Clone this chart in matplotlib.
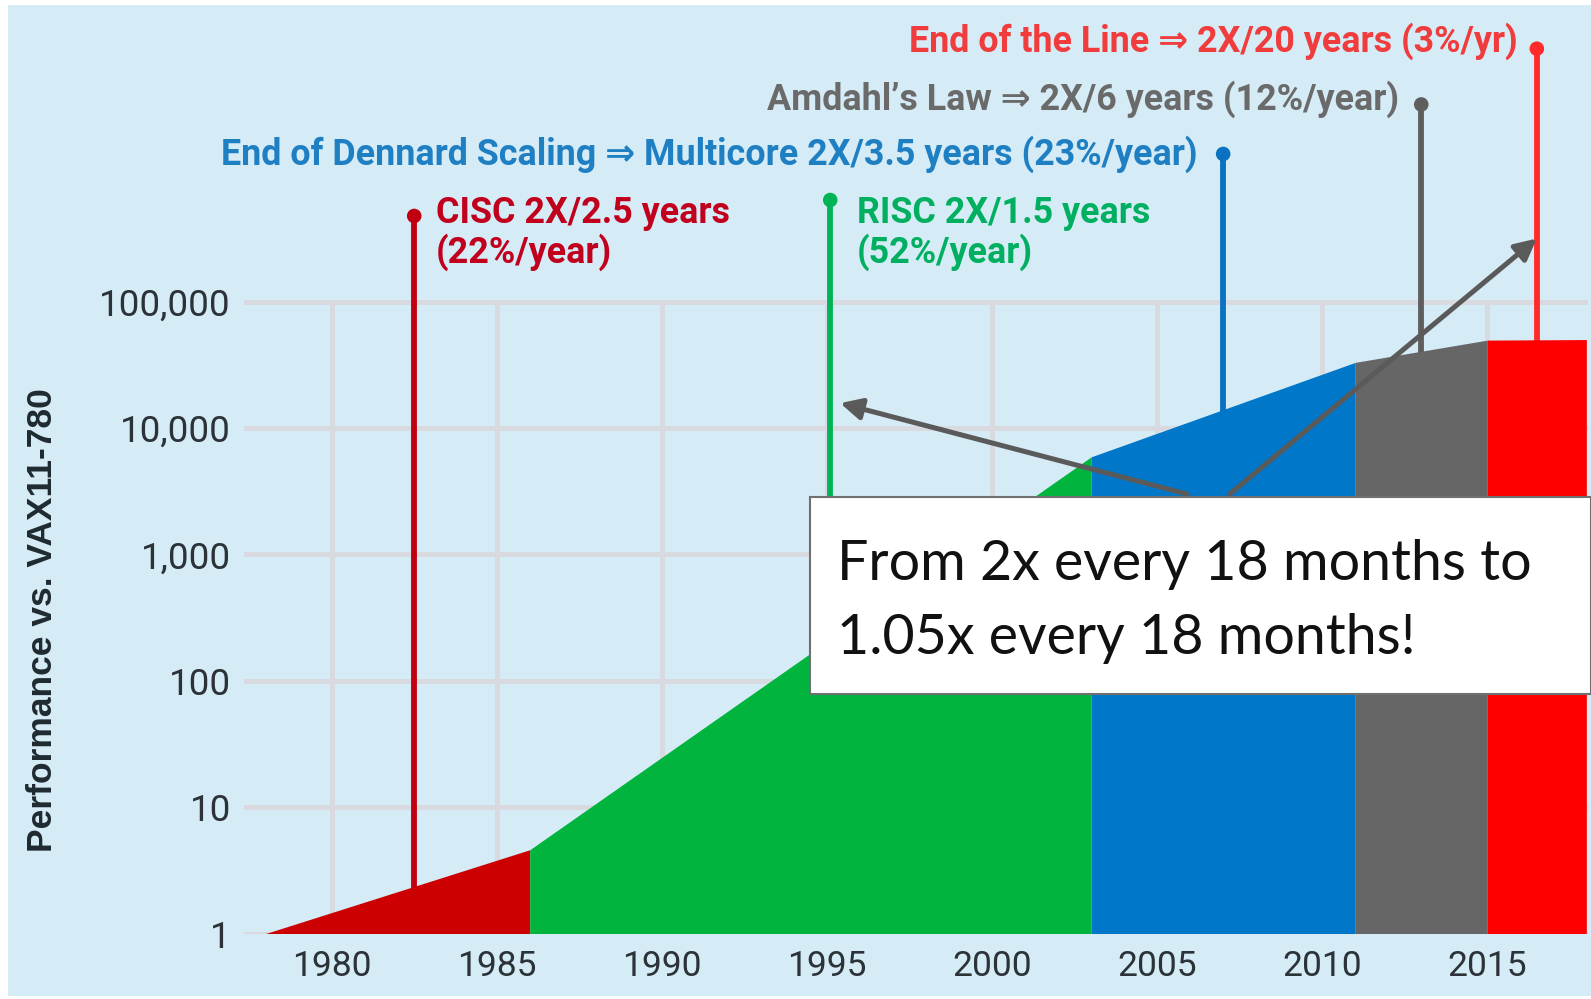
import matplotlib
matplotlib.use('Agg')
import matplotlib.pyplot as plt
from matplotlib.patches import Rectangle
from matplotlib.ticker import NullLocator

# performance relative to VAX11-780, one straight (log) segment per era
cisc_years = [1978, 1986]
cisc_perf = [1, 4.6]
risc_years = [1986, 2003]
risc_perf = [4.6, 5900]
dennard_years = [2003, 2011]
dennard_perf = [5900, 33000]
amdahl_years = [2011, 2015]
amdahl_perf = [33000, 49500]
end_years = [2015, 2018]
end_perf = [49500, 50000]

# labelled events: year of the stem and height of its dot
event_years = [1982.5, 1995.1, 2007, 2013, 2016.5]
event_tops = [4.75e5, 6.35e5, 1.47e6, 3.62e6, 1.0e7]
event_labels = [
    'CISC 2X/2.5 years\n(22%/year)',
    'RISC 2X/1.5 years\n(52%/year)',
    'End of Dennard Scaling \u21d2 Multicore 2X/3.5 years (23%/year)',
    'Amdahl\u2019s Law \u21d2 2X/6 years (12%/year)',
    'End of the Line \u21d2 2X/20 years (3%/yr)',
]

year_ticks = [1980, 1985, 1990, 1995, 2000, 2005, 2010, 2015]
perf_ticks = [1, 10, 100, 1000, 10000, 100000]
perf_labels = ['1', '10', '100', '1,000', '10,000', '100,000']

# arrows from the note box
arrow_tails = [(2005.9, 3000), (2007.2, 3000)]
arrow_heads = [(1995.4, 15700), (2016.5, 3.15e5)]

fill_colors = ['#cc0000', '#00b43e', '#0077c8', '#666666', '#ff0000']
stem_colors = ['#c00010', '#00b456', '#0a72c0', '#5e5e5e', '#ff2a2a']
text_colors = ['#c0001c', '#00b060', '#1f7fc3', '#6a6a6a', '#f03c3c']
bg = '#d5ebf6'
grid = '#d9dadf'

W, H = 1591, 999
fig = plt.figure(figsize=(W / 100, H / 100), dpi=100)
fig.patch.set_facecolor('white')
fig.add_artist(Rectangle((8 / W, 3 / H), 1 - 8 / W, 1 - 8 / H,
                         transform=fig.transFigure, facecolor=bg,
                         edgecolor='none', zorder=-1))

ax = fig.add_axes([243.5 / W, 65.5 / H, (1588 - 243.5) / W, 1 - 65.5 / H])
ax.patch.set_alpha(0)
ax.set_yscale('log')
ax.set_xlim(1977.33, 2018.05)
ax.set_ylim(1, 10 ** (933.5 / 126.4))
for s in ax.spines.values():
    s.set_visible(False)

# grid
for v in perf_ticks:
    ax.axhline(v, color=grid, lw=3.6, zorder=1)
ax.vlines(year_ticks, 1, 1e5, colors=grid, lw=3.6, zorder=1)

# stems and dots
ax.vlines(event_years, 1, event_tops, colors=stem_colors, lw=4.2, zorder=2)
ax.scatter(event_years, event_tops, s=110, c=stem_colors, zorder=3, linewidths=0)

# performance areas
segments = [(cisc_years, cisc_perf), (risc_years, risc_perf),
            (dennard_years, dennard_perf), (amdahl_years, amdahl_perf),
            (end_years, end_perf)]
for (xs, ys), c in zip(segments, fill_colors):
    ax.fill_between(xs, 1, ys, color=c, lw=0, zorder=4)

# event labels
offsets = [(22, -17, 'left'), (27, -33, 'left'), (-26, 0, 'right'),
           (-22, 5, 'right'), (-19, 7, 'right')]
for yr, top, lab, col, (dx, dy, ha) in zip(event_years, event_tops,
                                            event_labels, text_colors, offsets):
    ax.annotate(lab, (yr, top), xytext=(dx, dy), textcoords='offset pixels',
                ha=ha, va='center', color=col, fontsize=25.8, fontweight='bold',
                family=['Roboto', 'DejaVu Sans'], linespacing=1.08,
                annotation_clip=False, zorder=6)

# arrows
for t, h in zip(arrow_tails, arrow_heads):
    ax.annotate('', xy=h, xytext=t,
                arrowprops=dict(arrowstyle='-|>', color='#5a5a5a', lw=3.6,
                                mutation_scale=32, shrinkA=0, shrinkB=0),
                zorder=5)

ax.set_xticks(year_ticks)
ax.set_yticks(perf_ticks, perf_labels)
ax.yaxis.set_minor_locator(NullLocator())
ax.tick_params(length=0, labelsize=25.5, labelcolor='#2b3238')
ax.tick_params(axis='y', pad=9, labelsize=26.5)
ax.tick_params(axis='x', pad=12)
for lab in ax.get_xticklabels() + ax.get_yticklabels():
    lab.set_family('Roboto')

fig.text(42.6 / W, 1 - 620 / H, 'Performance vs. VAX11-780', rotation=90,
         family='Liberation Sans', fontweight='bold', fontsize=25.5,
         color='#1f2a30', ha='center', va='center')

# note box
fig.add_artist(Rectangle((810 / W, 1 - 694 / H), (W - 810) / W, 197 / H,
                         transform=fig.transFigure, facecolor='white',
                         edgecolor='#707070', lw=1.5, zorder=2))
fig.text(837 / W, 1 - 565 / H, 'From 2x every 18 months to', family='Lato',
         fontsize=40, color='#111111', va='center', zorder=3)
fig.text(837 / W, 1 - 638 / H, '1.05x every 18 months!', family='Lato',
         fontsize=40, color='#111111', va='center', zorder=3)

fig.savefig('out.png', dpi=100, facecolor=fig.get_facecolor())
